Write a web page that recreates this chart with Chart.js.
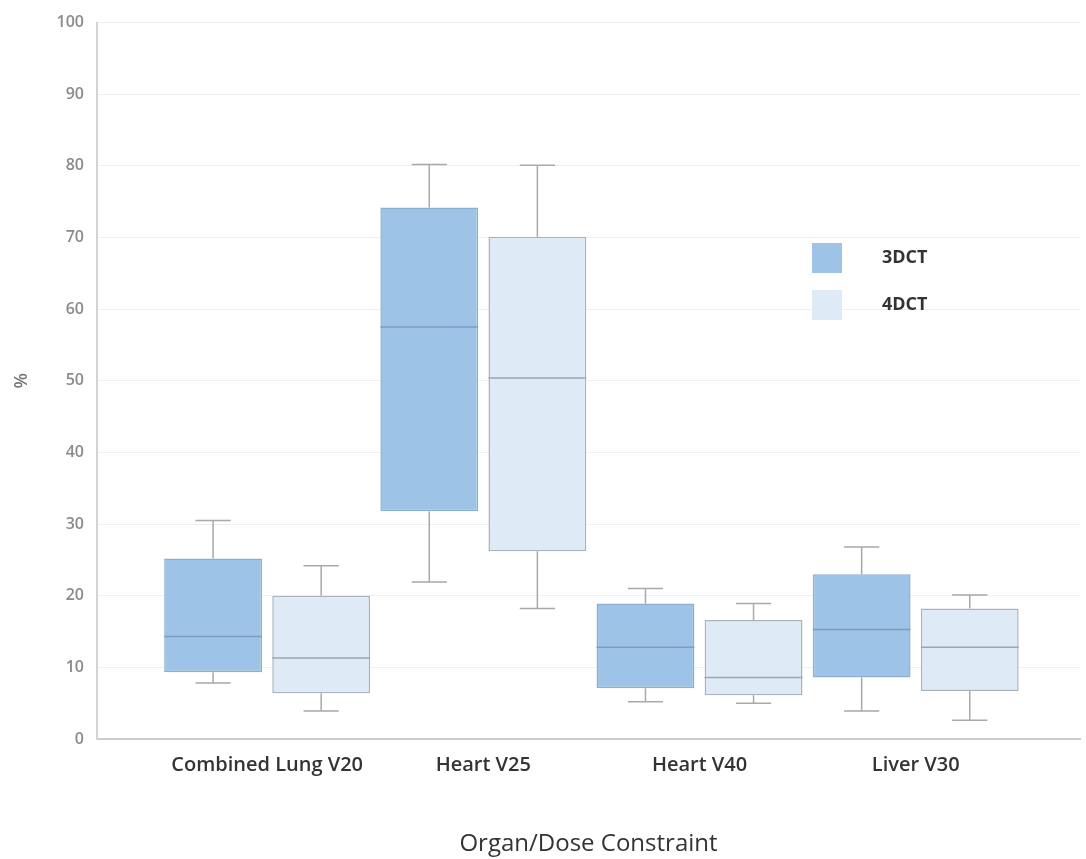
<!DOCTYPE html>
<html>
<head>
<meta charset="utf-8">
<script src="https://cdn.jsdelivr.net/npm/chart.js@4.4.1/dist/chart.umd.min.js"></script>
<style>
  html, body { margin: 0; padding: 0; background: #fff; }
  #wrap { width: 1086px; height: 859px; position: relative; }
</style>
</head>
<body>
<div id="wrap"><canvas id="boxChart"></canvas></div>
<script>
// values (%)
const categories = ["Combined Lung V20", "Heart V25", "Heart V40", "Liver V30"];
const seriesNames = ["3DCT", "4DCT"];

const min3d = [7.8, 21.9, 5.2, 3.9];
const q1_3d = [9.3, 31.8, 7.1, 8.6];
const med3d = [14.3, 57.5, 12.8, 15.3];
const q3_3d = [25.2, 74.2, 18.9, 23.0];
const max3d = [30.5, 80.2, 21.0, 26.8];

const min4d = [3.9, 18.2, 5.0, 2.6];
const q1_4d = [6.4, 26.2, 6.1, 6.7];
const med4d = [11.3, 50.4, 8.6, 12.8];
const q3_4d = [20.0, 70.1, 16.6, 18.2];
const max4d = [24.2, 80.1, 18.9, 20.1];

const yTicks = [0, 10, 20, 30, 40, 50, 60, 70, 80, 90, 100];

const boxData = (q1, q3) => q1.map((v, i) => ({ x: i, y: [v, q3[i]] }));

// whiskers + medians drawn with the chart's own scales
const boxExtras = {
    id: "boxExtras",
    beforeDatasetsDraw(chart) {
        const ctx = chart.ctx;
        const y = chart.scales.y;
        chart.data.datasets.forEach((ds, di) => {
            const meta = chart.getDatasetMeta(di);
            meta.data.forEach((bar, i) => {
                const cap = bar.width * 0.36;
                const yMin = y.getPixelForValue(ds.whiskerMin[i]);
                const yMax = y.getPixelForValue(ds.whiskerMax[i]);
                const yLo = y.getPixelForValue(ds.data[i].y[0]);
                const yHi = y.getPixelForValue(ds.data[i].y[1]);
                ctx.save();
                ctx.strokeStyle = "#a9a9a9";
                ctx.lineWidth = 1.5;
                ctx.beginPath();
                ctx.moveTo(bar.x, yHi); ctx.lineTo(bar.x, yMax);
                ctx.moveTo(bar.x - cap / 2, yMax); ctx.lineTo(bar.x + cap / 2, yMax);
                ctx.moveTo(bar.x, yLo); ctx.lineTo(bar.x, yMin);
                ctx.moveTo(bar.x - cap / 2, yMin); ctx.lineTo(bar.x + cap / 2, yMin);
                ctx.stroke();
                ctx.restore();
            });
        });
    },
    afterDatasetsDraw(chart) {
        const ctx = chart.ctx;
        const y = chart.scales.y;
        chart.data.datasets.forEach((ds, di) => {
            const meta = chart.getDatasetMeta(di);
            meta.data.forEach((bar, i) => {
                const yMed = y.getPixelForValue(ds.median[i]);
                ctx.save();
                ctx.strokeStyle = ds.medianColor;
                ctx.lineWidth = 1.5;
                ctx.beginPath();
                ctx.moveTo(bar.x - bar.width / 2, yMed);
                ctx.lineTo(bar.x + bar.width / 2, yMed);
                ctx.stroke();
                ctx.restore();
            });
        });
    }
};

// legend inside the plot, stacked vertically like the original
const sideLegend = {
    id: "sideLegend",
    afterDraw(chart, args, opts) {
        const ctx = chart.ctx;
        ctx.save();
        chart.data.datasets.forEach((ds, i) => {
            const top = opts.y + i * opts.gap;
            ctx.fillStyle = ds.backgroundColor;
            ctx.fillRect(opts.x, top, opts.size, opts.size);
            ctx.fillStyle = "#333";
            ctx.font = "bold 18px 'Open Sans', sans-serif";
            ctx.textBaseline = "middle";
            ctx.fillText(ds.label, opts.textX, top + opts.size / 2);
        });
        ctx.restore();
    }
};

new Chart(document.getElementById("boxChart"), {
    type: "bar",
    data: {
        datasets: [
            {
                label: seriesNames[0],
                data: boxData(q1_3d, q3_3d),
                median: med3d,
                whiskerMin: min3d,
                whiskerMax: max3d,
                backgroundColor: "#9dc3e6",
                borderColor: "#8eaed0",
                medianColor: "#7f9dbd",
                borderWidth: 1.5,
                borderSkipped: false,
            },
            {
                label: seriesNames[1],
                data: boxData(q1_4d, q3_4d),
                median: med4d,
                whiskerMin: min4d,
                whiskerMax: max4d,
                backgroundColor: "#deebf7",
                borderColor: "#aab2bb",
                medianColor: "#9aa6b2",
                borderWidth: 1.5,
                borderSkipped: false,
            },
        ],
    },
    options: {
        responsive: true,
        maintainAspectRatio: false,
        animation: false,
        categoryPercentage: 1.0,
        barPercentage: 0.905,
        layout: { padding: { top: 21, right: 6, left: 0, bottom: 0 } },
        plugins: {
            legend: { display: false },
            tooltip: { enabled: false },
            sideLegend: { x: 812, y: 243, size: 30, gap: 47, textX: 882 },
        },
        scales: {
            x: {
                type: "linear",
                offset: false,
                min: -0.787,
                max: 3.76,
                afterBuildTicks: (s) => { s.ticks = categories.map((c, i) => ({ value: i })); },
                afterFit: (s) => { s.height = 120; },
                grid: { display: false, drawTicks: false, offset: false },
                border: { color: "#cccccc", width: 2 },
                ticks: {
                    autoSkip: false,
                    maxRotation: 0,
                    padding: 14,
                    color: "#333",
                    font: { family: "'Open Sans', sans-serif", size: 20, weight: "600" },
                    callback: (v) => categories[v],
                },
                title: {
                    display: true,
                    text: "Organ/Dose Constraint",
                    color: "#333",
                    padding: { top: 0, bottom: 0 },
                    font: { family: "'Open Sans', sans-serif", size: 24 },
                },
            },
            y: {
                min: 0,
                max: 100,
                afterBuildTicks: (s) => { s.ticks = yTicks.map((v) => ({ value: v })); },
                afterFit: (s) => { s.width = 97; },
                grid: { color: "#f0f0f0", drawTicks: false },
                border: { color: "#d4d4d4", width: 2 },
                ticks: {
                    padding: 13,
                    color: "#8a8a8a",
                    font: { family: "'Open Sans', sans-serif", size: 16, weight: "600" },
                },
                title: {
                    display: true,
                    text: "%",
                    color: "#777",
                    padding: { top: 11, bottom: 0 },
                    font: { family: "'Open Sans', sans-serif", size: 18, weight: "600" },
                },
            },
        },
    },
    plugins: [boxExtras, sideLegend],
});
</script>
</body>
</html>
